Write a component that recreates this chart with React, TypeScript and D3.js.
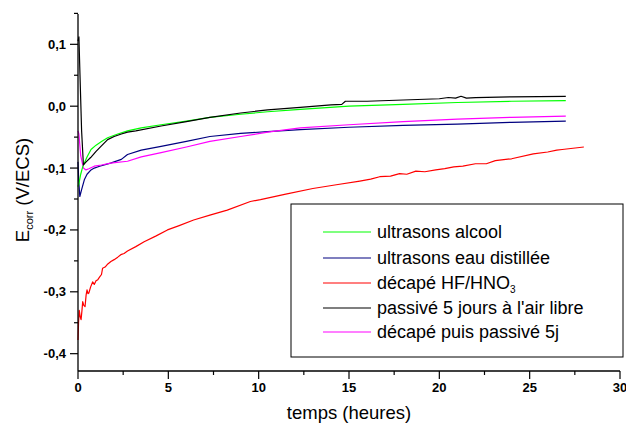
import React from "react";
import * as d3 from "d3";

// ---- data (time in hours, potential in V/ECS) ----
const greenT = [0, 0.05, 0.15, 0.26, 0.5, 0.72, 1.0, 1.3, 1.64, 2.2, 2.74, 3.5, 4.6, 6, 7.3, 9, 10.5, 12.3, 15, 18, 21, 24, 27];
const greenV = [-0.13, -0.125, -0.11, -0.098, -0.082, -0.07, -0.063, -0.057, -0.051, -0.045, -0.04, -0.035, -0.03, -0.024, -0.018, -0.013, -0.009, -0.005, 0.0, 0.003, 0.006, 0.008, 0.009];

const blueT = [0, 0.04, 0.1, 0.2, 0.35, 0.5, 0.72, 0.9, 1.2, 1.8, 2.4, 2.74, 3.5, 4.6, 6, 7.3, 9, 10.5, 12.3, 15, 18, 21, 24, 27];
const blueV = [-0.09, -0.12, -0.146, -0.135, -0.119, -0.11, -0.103, -0.1, -0.097, -0.092, -0.086, -0.078, -0.071, -0.065, -0.057, -0.049, -0.044, -0.041, -0.038, -0.034, -0.031, -0.029, -0.026, -0.024];

const redT = [0, 0.03, 0.07, 0.12, 0.17, 0.22, 0.26, 0.32, 0.39, 0.45, 0.5, 0.55, 0.6, 0.7, 0.81, 0.9, 1.0, 1.08, 1.2, 1.3, 1.36, 1.5, 1.65, 1.82, 2.0, 2.2, 2.37, 2.55, 2.74, 3.2, 3.66, 4.3, 4.95, 5.6, 6.4, 7.3, 8.26, 9.54, 10.1, 11.5, 13, 14.3, 15.6, 16.2, 16.7, 17.3, 17.8, 18.2, 18.7, 19.2, 19.8, 20.3, 20.8, 21.3, 22.0, 22.6, 23.1, 24.0, 25.2, 26.0, 26.5, 26.8, 27.4, 28.0];
const redV = [-0.378, -0.35, -0.33, -0.34, -0.345, -0.33, -0.316, -0.322, -0.324, -0.305, -0.297, -0.303, -0.302, -0.292, -0.284, -0.288, -0.282, -0.281, -0.276, -0.272, -0.262, -0.26, -0.255, -0.251, -0.248, -0.244, -0.24, -0.238, -0.234, -0.227, -0.219, -0.21, -0.2, -0.193, -0.184, -0.176, -0.168, -0.154, -0.151, -0.142, -0.133, -0.127, -0.121, -0.118, -0.114, -0.113, -0.109, -0.11, -0.105, -0.106, -0.103, -0.101, -0.098, -0.097, -0.093, -0.093, -0.088, -0.085, -0.077, -0.074, -0.071, -0.07, -0.068, -0.066];

const blackT = [0, 0.05, 0.1, 0.2, 0.3, 0.45, 0.7, 1.0, 1.27, 1.64, 2.0, 2.4, 2.74, 3.2, 4.6, 6, 7.3, 9, 10.5, 12.3, 14.0, 14.6, 14.8, 16, 18, 20, 20.5, 20.9, 21.2, 21.5, 22, 24, 27];
const blackV = [0.105, 0.112, 0.06, -0.04, -0.095, -0.09, -0.083, -0.073, -0.065, -0.054, -0.049, -0.045, -0.042, -0.04, -0.032, -0.025, -0.018, -0.011, -0.006, -0.002, 0.002, 0.003, 0.008, 0.008, 0.01, 0.012, 0.014, 0.013, 0.016, 0.013, 0.014, 0.015, 0.016];

const magentaT = [0, 0.05, 0.15, 0.3, 0.44, 0.6, 0.9, 1.3, 1.8, 2.74, 3.5, 4.6, 6, 7.3, 9, 10.5, 12.3, 15, 18, 21, 24, 27];
const magentaV = [-0.04, -0.045, -0.08, -0.1, -0.103, -0.101, -0.097, -0.095, -0.092, -0.089, -0.082, -0.075, -0.066, -0.057, -0.049, -0.042, -0.035, -0.03, -0.025, -0.021, -0.018, -0.016];

const seriesNames = ["ultrasons alcool", "ultrasons eau distillée", "décapé HF/HNO", "passivé 5 jours à l'air libre", "décapé puis passivé 5j"];
const seriesColors = ["#00ff00", "#000080", "#ff0000", "#000000", "#ff00ff"];

const xTicks = [0, 5, 10, 15, 20, 25, 30];
const yTicks = [0.1, 0.0, -0.1, -0.2, -0.3, -0.4];

// ---- layout ----
const W = 626, H = 423;
const L = 78, R = 620, T = 14, B = 371;

export default function App() {
  const x = d3.scaleLinear().domain([0, 30]).range([L, R]);
  const y = d3.scaleLinear().domain([-0.428, 0.149]).range([B, T]);
  const line = d3.line<[number, number]>().x(d => x(d[0])).y(d => y(d[1]));

  const series = [
    { t: greenT, v: greenV },
    { t: blueT, v: blueV },
    { t: redT, v: redV },
    { t: blackT, v: blackV },
    { t: magentaT, v: magentaV },
  ];
  // draw order: red, blue, magenta, green, black
  const order = [2, 1, 4, 0, 3];

  const xMinor = d3.range(0, 30.01, 2.5);
  const yMinor = d3.range(-0.4, 0.1501, 0.05).map(v => Math.round(v * 100) / 100);
  const fmt = (v: number) => (v === 0 ? "0,0" : d3.format(".1f")(v).replace(".", ",").replace("−", "-"));

  const legX0 = 323, legX1 = 371, legTextX = 377;
  const legY = [232, 258, 283, 308, 332];

  return (
    <svg width={W} height={H} style={{ position: "absolute", left: 0, top: 0, background: "#fff" }}
      fontFamily="Liberation Sans, Arial, sans-serif">
      <rect x={0} y={0} width={W} height={H} fill="#fff" />
      {order.map(i => (
        <path key={i} d={line(series[i].t.map((t, k) => [t, series[i].v[k]] as [number, number])) || ""}
          fill="none" stroke={seriesColors[i]} strokeWidth={1.2} strokeLinejoin="round" />
      ))}
      {/* axes */}
      <line x1={L} x2={L} y1={T} y2={B} stroke="#000" strokeWidth={1.3} />
      <line x1={L} x2={R} y1={B} y2={B} stroke="#000" strokeWidth={1.3} />
      {yMinor.map(v => {
        const major = yTicks.some(t => Math.abs(t - v) < 1e-6);
        return <line key={"ym" + v} x1={L - (major ? 8 : 4)} x2={L} y1={y(v)} y2={y(v)} stroke="#000" strokeWidth={1.2} />;
      })}
      {xMinor.map(v => {
        const major = xTicks.includes(v);
        return <line key={"xm" + v} x1={x(v)} x2={x(v)} y1={B} y2={B + (major ? 8 : 4)} stroke="#000" strokeWidth={1.2} />;
      })}
      {yTicks.map(v => (
        <text key={"yl" + v} x={L - 12} y={y(v) + 4.5} textAnchor="end" fontSize={13} fontWeight="bold">{fmt(v)}</text>
      ))}
      {xTicks.map(v => (
        <text key={"xl" + v} x={x(v)} y={392} textAnchor="middle" fontSize={13} fontWeight="bold">{v}</text>
      ))}
      <text x={(L + R) / 2} y={419} textAnchor="middle" fontSize={18.5}>temps (heures)</text>
      <text transform={`translate(29,190) rotate(-90)`} textAnchor="middle" fontSize={18.5}>
        E<tspan fontSize={11} dy={4}>corr</tspan><tspan dy={-4}> (V/ECS)</tspan>
      </text>
      {/* legend */}
      <rect x={291} y={204} width={332} height={153} fill="#fff" stroke="#000" strokeWidth={1} />
      {seriesNames.map((n, i) => (
        <g key={n}>
          <line x1={legX0} x2={legX1} y1={legY[i]} y2={legY[i]} stroke={seriesColors[i]} strokeWidth={1.2} />
          <text x={legTextX} y={legY[i] + 6} fontSize={18}>
            {n}{i === 2 ? <tspan fontSize={10} dy={4}>3</tspan> : null}
          </text>
        </g>
      ))}
    </svg>
  );
}
